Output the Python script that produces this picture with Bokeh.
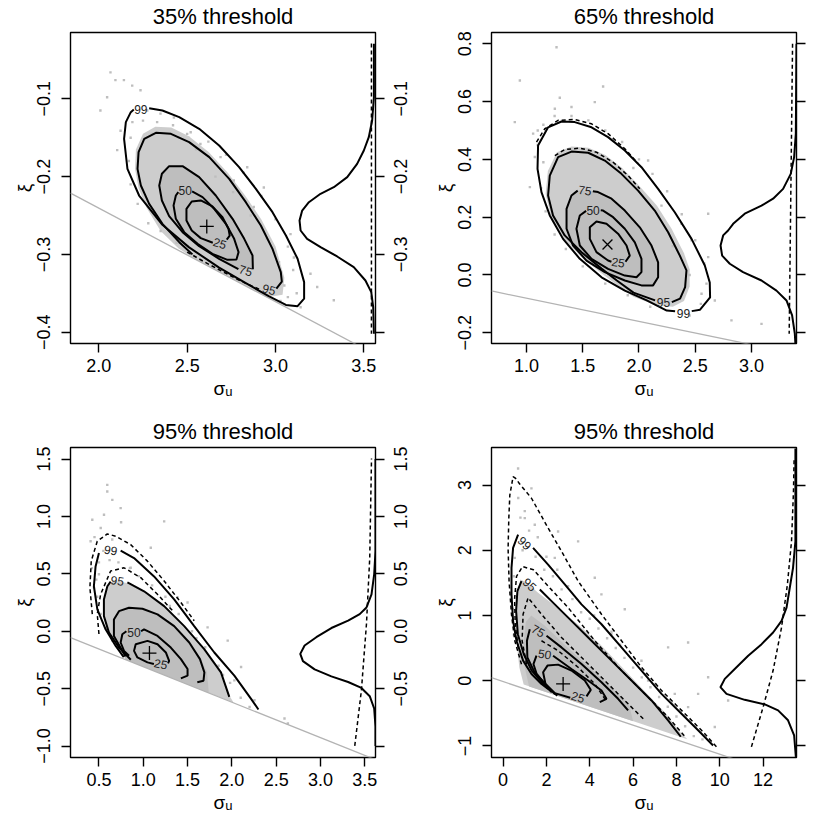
import math
from bokeh.plotting import figure
from bokeh.models import Range1d, LinearAxis, FixedTicker
from bokeh.layouts import column, row
from bokeh.embed import file_html
from bokeh.resources import INLINE
from bokeh.core.properties import value

FONT = "Liberation Sans"

# ---------------- Panel 1 : 35% threshold ----------------
P1_TITLE = "35% threshold"
P1_XTICKS = [2.0, 2.5, 3.0, 3.5]
P1_XLABELS = ["2.0", "2.5", "3.0", "3.5"]
P1_YTICKS = [-0.4, -0.3, -0.2, -0.1]
P1_YLABELS = ["\u22120.4", "\u22120.3", "\u22120.2", "\u22120.1"]
P1_XRANGE = [1.8397, 3.566]
P1_YRANGE = [-0.4146, -0.0147]
P1_BOUND_X = [1.8397, 3.566]
P1_BOUND_Y = [-0.2213, -0.4290]
P1_C99_X = [2.285, 2.360, 2.455, 2.568, 2.681, 2.794, 2.889, 2.983, 3.059, 3.125, 3.162, 3.162, 3.125, 3.059, 2.964, 2.832, 2.681, 2.511, 2.360, 2.228, 2.162, 2.143, 2.153, 2.181, 2.198]
P1_C99_Y = [-0.112, -0.115, -0.1236, -0.1386, -0.160, -0.1879, -0.2157, -0.2457, -0.2757, -0.3057, -0.3357, -0.357, -0.3666, -0.365, -0.354, -0.337, -0.317, -0.291, -0.262, -0.2243, -0.190, -0.1514, -0.130, -0.1171, -0.1137]
P1_C95_X = [3.005, 3.036, 3.030, 2.983, 2.917, 2.832, 2.738, 2.625, 2.511, 2.408, 2.323, 2.257, 2.225, 2.219, 2.238, 2.285, 2.360, 2.455, 2.530]
P1_C95_Y = [-0.344, -0.335, -0.3229, -0.2929, -0.2629, -0.2329, -0.2029, -0.175, -0.1557, -0.145, -0.1437, -0.1514, -0.1686, -0.190, -0.2114, -0.235, -0.2607, -0.2843, -0.300]
P1_C75_X = [2.872, 2.870, 2.823, 2.757, 2.662, 2.568, 2.474, 2.398, 2.357, 2.342, 2.357, 2.398, 2.474, 2.568, 2.681, 2.790]
P1_C75_Y = [-0.319, -0.3014, -0.280, -0.2543, -0.2243, -0.2007, -0.1866, -0.1866, -0.1964, -0.2114, -0.2307, -0.2509, -0.2714, -0.2894, -0.3057, -0.319]
P1_C50_X = [2.528, 2.587, 2.653, 2.719, 2.766, 2.791, 2.779, 2.728, 2.643, 2.559, 2.483, 2.436, 2.423, 2.436, 2.450]
P1_C50_Y = [-0.219, -0.2264, -0.2414, -0.2607, -0.280, -0.2971, -0.3066, -0.307, -0.2993, -0.2864, -0.2714, -0.2543, -0.2371, -0.2243, -0.220]
P1_C25_X = [2.724, 2.741, 2.734, 2.700, 2.643, 2.577, 2.526, 2.496, 2.496, 2.526, 2.577, 2.645]
P1_C25_Y = [-0.281, -0.276, -0.2671, -0.2521, -0.2384, -0.2307, -0.232, -0.2414, -0.2564, -0.2693, -0.2791, -0.285]
P1_D95_X = [2.50, 2.60, 2.70, 2.80, 2.92]
P1_D95_Y = [-0.297, -0.310, -0.322, -0.334, -0.346]
P1_CLOUD_X = [3.04, 3.05, 3.00, 2.92, 2.83, 2.73, 2.62, 2.51, 2.41, 2.32, 2.25, 2.21, 2.205, 2.225, 2.27, 2.35, 2.45, 2.55, 2.75, 2.95]
P1_CLOUD_Y = [-0.352, -0.33, -0.29, -0.255, -0.225, -0.195, -0.168, -0.148, -0.137, -0.136, -0.145, -0.165, -0.19, -0.215, -0.24, -0.27, -0.292, -0.307, -0.331, -0.355]
P1_DOTS_X = [2.066, 2.094, 2.047, 2.142, 2.189, 2.236, 2.009, 2.104, 2.425, 2.500, 2.575, 2.840, 2.934, 3.085, 3.236, 3.142, 3.028, 3.330, 3.104, 2.877, 2.274, 2.349, 2.689, 2.764, 3.198, 2.123,
             2.19, 2.25, 2.33, 2.42, 2.52, 2.62, 2.72, 2.82, 2.92, 3.00, 3.07, 3.10, 3.12, 3.07, 2.18, 2.17, 2.18, 2.22, 2.28, 2.35, 2.44, 2.66, 2.76, 2.86, 2.95, 3.02, 3.05, 2.55, 2.45, 2.30]
P1_DOTS_Y = [-0.066, -0.076, -0.098, -0.076, -0.083, -0.089, -0.115, -0.166, -0.124, -0.145, -0.158, -0.188, -0.214, -0.274, -0.342, -0.368, -0.360, -0.359, -0.304, -0.239, -0.115, -0.119, -0.175, -0.205, -0.325, -0.141,
             -0.13, -0.128, -0.13, -0.134, -0.143, -0.155, -0.172, -0.195, -0.225, -0.255, -0.29, -0.32, -0.35, -0.355, -0.15, -0.18, -0.21, -0.235, -0.26, -0.27, -0.285, -0.20, -0.22, -0.25, -0.28, -0.31, -0.34, -0.165, -0.15, -0.145]
P1_LAB_X = [2.238, 2.964, 2.832, 2.489, 2.685]
P1_LAB_Y = [-0.1137, -0.345, -0.3207, -0.2179, -0.2856]
P1_LAB_T = ["99", "95", "75", "50", "25"]
P1_LAB_A = [0.0, -0.25, -0.3, 0.0, -0.3]
P1_MODE = [2.611, -0.264]
P1_DENS_X = [3.557, 3.557, 3.547, 3.528, 3.500, 3.462, 3.406, 3.330, 3.255, 3.189, 3.151, 3.136, 3.142, 3.179, 3.255, 3.349, 3.443, 3.509, 3.542, 3.553, 3.557]
P1_DENS_Y = [-0.0293, -0.0979, -0.1279, -0.1493, -0.1664, -0.1836, -0.2007, -0.2136, -0.2221, -0.2329, -0.2436, -0.2564, -0.2693, -0.280, -0.2907, -0.3027, -0.3164, -0.3336, -0.3486, -0.3679, -0.4021]
P1_PRIOR_X = [3.543, 3.543]
P1_PRIOR_Y = [-0.029, -0.402]

# ---------------- Panel 2 : 65% threshold ----------------
P2_TITLE = "65% threshold"
P2_XTICKS = [1.0, 1.5, 2.0, 2.5, 3.0]
P2_XLABELS = ["1.0", "1.5", "2.0", "2.5", "3.0"]
P2_YTICKS = [-0.2, 0.0, 0.2, 0.4, 0.6, 0.8]
P2_YLABELS = ["\u22120.2", "0.0", "0.2", "0.4", "0.6", "0.8"]
P2_XRANGE = [0.689, 3.400]
P2_YRANGE = [-0.237, 0.839]
P2_BOUND_X = [0.689, 3.400]
P2_BOUND_Y = [-0.0553, -0.273]
P2_C99_X = [2.469, 2.543, 2.632, 2.629, 2.585, 2.467, 2.318, 2.170, 2.022, 1.874, 1.725, 1.578, 1.429, 1.311, 1.192, 1.103, 1.098, 1.133, 1.207, 1.325, 1.474, 1.667, 1.874, 2.069, 2.247, 2.321]
P2_C99_Y = [-0.125, -0.120, -0.077, -0.026, 0.033, 0.125, 0.217, 0.298, 0.373, 0.431, 0.477, 0.511, 0.529, 0.531, 0.511, 0.448, 0.367, 0.287, 0.206, 0.125, 0.056, -0.008, -0.054, -0.088, -0.123, -0.125]
P2_C95_X = [2.292, 2.365, 2.410, 2.422, 2.363, 2.259, 2.140, 1.992, 1.844, 1.696, 1.548, 1.400, 1.281, 1.207, 1.192, 1.236, 1.340, 1.489, 1.667, 1.803, 1.951, 2.143]
P2_C95_Y = [-0.094, -0.082, -0.042, 0.016, 0.067, 0.148, 0.223, 0.292, 0.350, 0.396, 0.423, 0.427, 0.408, 0.344, 0.275, 0.206, 0.137, 0.079, 0.022, -0.019, -0.061, -0.088]
P2_C75_X = [1.590, 1.636, 1.756, 1.874, 2.007, 2.111, 2.170, 2.170, 2.125, 2.022, 1.874, 1.696, 1.533, 1.414, 1.356, 1.356, 1.400, 1.455]
P2_C75_Y = [0.290, 0.287, 0.264, 0.223, 0.165, 0.102, 0.044, -0.008, -0.036, -0.036, -0.019, 0.010, 0.050, 0.102, 0.160, 0.229, 0.275, 0.292]
P2_C50_X = [1.660, 1.681, 1.770, 1.874, 1.963, 2.022, 2.022, 1.978, 1.874, 1.725, 1.578, 1.474, 1.444, 1.474, 1.530]
P2_C50_Y = [0.224, 0.223, 0.200, 0.160, 0.113, 0.056, 0.010, -0.008, -0.002, 0.021, 0.056, 0.102, 0.160, 0.206, 0.222]
P2_C25_X = [1.880, 1.918, 1.889, 1.814, 1.711, 1.622, 1.563, 1.563, 1.622, 1.725, 1.755]
P2_C25_Y = [0.046, 0.067, 0.102, 0.143, 0.177, 0.185, 0.165, 0.125, 0.079, 0.050, 0.046]
P2_D99_X = [1.089, 1.163, 1.281, 1.429, 1.578, 1.725, 1.874, 1.992]
P2_D99_Y = [0.460, 0.506, 0.535, 0.538, 0.523, 0.489, 0.437, 0.385]
P2_D95_X = [1.252, 1.340, 1.474, 1.622, 1.770, 1.903, 2.007]
P2_D95_Y = [0.413, 0.434, 0.439, 0.425, 0.390, 0.344, 0.298]
P2_CLOUD_X = [2.30, 2.40, 2.45, 2.45, 2.40, 2.29, 2.16, 2.00, 1.85, 1.70, 1.55, 1.40, 1.27, 1.19, 1.17, 1.22, 1.33, 1.48, 1.66, 1.80, 1.95, 2.15]
P2_CLOUD_Y = [-0.11, -0.09, -0.04, 0.02, 0.075, 0.16, 0.24, 0.31, 0.37, 0.415, 0.44, 0.445, 0.425, 0.36, 0.28, 0.20, 0.125, 0.065, 0.008, -0.034, -0.075, -0.105]
P2_DOTS_X = [1.267, 0.941, 1.681, 1.296, 0.896, 1.607, 1.400, 1.059, 1.252, 2.378, 2.467, 2.615, 2.822, 3.089, 2.674, 2.556, 2.081, 1.074, 1.030, 2.615,
             1.10, 1.15, 1.25, 1.40, 1.55, 1.70, 1.85, 2.00, 2.12, 2.25, 2.38, 2.50, 2.58, 2.60, 2.55, 2.45, 1.15, 1.13, 1.17, 1.25, 1.35, 1.50, 1.70, 1.90, 2.10, 2.30, 2.45, 2.20, 1.95, 1.10]
P2_DOTS_Y = [0.788, 0.673, 0.652, 0.613, 0.529, 0.598, 0.581, 0.489, 0.575, 0.177, 0.120, 0.062, -0.157, -0.169, -0.088, -0.065, 0.396, 0.408, 0.304, 0.212,
             0.50, 0.52, 0.55, 0.55, 0.535, 0.50, 0.46, 0.40, 0.35, 0.29, 0.21, 0.12, 0.04, -0.03, -0.10, -0.14, 0.39, 0.30, 0.22, 0.14, 0.09, 0.03, -0.03, -0.07, -0.11, 0.10, 0.00, 0.24, 0.37, 0.45]
P2_LAB_X = [2.396, 2.218, 1.520, 1.592, 1.816]
P2_LAB_Y = [-0.134, -0.094, 0.293, 0.223, 0.044]
P2_LAB_T = ["99", "95", "75", "50", "25"]
P2_LAB_A = [0.0, 0.0, -0.15, 0.0, -0.15]
P2_MODE = [1.72, 0.1055]
P2_DENS_X = [3.400, 3.394, 3.379, 3.349, 3.281, 3.192, 3.089, 2.940, 2.837, 2.792, 2.748, 2.725, 2.739, 2.807, 2.925, 3.089, 3.222, 3.311, 3.361, 3.385, 3.39]
P2_DENS_Y = [0.800, 0.489, 0.408, 0.350, 0.298, 0.264, 0.240, 0.212, 0.177, 0.154, 0.137, 0.102, 0.067, 0.039, 0.010, -0.019, -0.054, -0.088, -0.140, -0.203, -0.237]
P2_PRIOR_X = [3.365, 3.335]
P2_PRIOR_Y = [0.800, -0.203]

# ---------------- Panel 3 : 95% threshold ----------------
P3_TITLE = "95% threshold"
P3_XTICKS = [0.5, 1.0, 1.5, 2.0, 2.5, 3.0, 3.5]
P3_XLABELS = ["0.5", "1.0", "1.5", "2.0", "2.5", "3.0", "3.5"]
P3_YTICKS = [-1.0, -0.5, 0.0, 0.5, 1.0, 1.5]
P3_YLABELS = ["\u22121.0", "\u22120.5", "0.0", "0.5", "1.0", "1.5"]
P3_XRANGE = [0.179, 3.621]
P3_YRANGE = [-1.100, 1.601]
P3_BOUND_X = [0.179, 3.621]
P3_BOUND_Y = [-0.0553, -1.119]
P3_C99A_X = [0.78, 0.689, 0.575, 0.482, 0.443, 0.462, 0.500]
P3_C99A_Y = [-0.225, -0.128, 0.017, 0.190, 0.392, 0.565, 0.681]
P3_C99B_X = [0.745, 0.896, 1.122, 1.349, 1.575, 1.802, 2.028, 2.217, 2.300]
P3_C99B_Y = [0.703, 0.638, 0.478, 0.277, 0.045, -0.185, -0.387, -0.589, -0.682]
P3_C95A_X = [0.86, 0.726, 0.613, 0.556, 0.556, 0.595, 0.632]
P3_C95A_Y = [-0.248, -0.142, -0.012, 0.132, 0.277, 0.392, 0.433]
P3_C95B_X = [0.821, 1.009, 1.236, 1.462, 1.688, 1.877, 1.971]
P3_C95B_Y = [0.426, 0.348, 0.219, 0.045, -0.156, -0.358, -0.572]
P3_C75_X = [0.80, 0.669, 0.669, 0.726, 0.839, 0.991, 1.161, 1.349, 1.519, 1.640, 1.690, 1.680, 1.610]
P3_C75_Y = [-0.22, -0.041, 0.103, 0.175, 0.205, 0.196, 0.147, 0.045, -0.098, -0.243, -0.358, -0.431, -0.445]
P3_C50A_X = [0.840, 0.783, 0.745, 0.764, 0.810]
P3_C50A_Y = [-0.214, -0.171, -0.098, -0.026, 0.0]
P3_C50B_X = [0.975, 1.009, 1.161, 1.311, 1.425, 1.500, 1.500, 1.425]
P3_C50B_Y = [0.0, 0.017, -0.041, -0.142, -0.243, -0.329, -0.387, -0.410]
P3_C25_X = [1.28, 1.292, 1.255, 1.161, 1.048, 0.915, 0.896, 0.934, 1.048, 1.12]
P3_C25_Y = [-0.28, -0.258, -0.185, -0.113, -0.084, -0.113, -0.171, -0.228, -0.271, -0.285]
P3_D99_X = [0.425, 0.398, 0.413, 0.481, 0.594, 0.689, 0.858, 1.047, 1.236, 1.425, 1.575]
P3_D99_Y = [0.149, 0.380, 0.611, 0.784, 0.848, 0.828, 0.755, 0.611, 0.438, 0.250, 0.092]
P3_D95_X = [0.500, 0.481, 0.519, 0.632, 0.783, 0.972, 1.160, 1.349]
P3_D95_Y = [-0.024, 0.149, 0.322, 0.525, 0.553, 0.467, 0.322, 0.164]
P3_CLOUD_X = [0.84, 0.72, 0.61, 0.56, 0.56, 0.60, 0.66, 0.82, 1.00, 1.24, 1.46, 1.69, 1.88, 1.98, 2.02]
P3_CLOUD_Y = [-0.26, -0.14, -0.01, 0.13, 0.28, 0.39, 0.44, 0.42, 0.35, 0.21, 0.03, -0.17, -0.37, -0.57, -0.624]
P3_DENSE_X = [0.80, 0.68, 0.68, 0.73, 0.84, 0.99, 1.16, 1.35, 1.52, 1.65, 1.72, 1.74]
P3_DENSE_Y = [-0.247, -0.04, 0.10, 0.17, 0.20, 0.19, 0.14, 0.04, -0.10, -0.24, -0.36, -0.538]
P3_DOTS_X = [0.594, 0.651, 0.594, 0.557, 0.425, 0.745, 1.236, 0.406, 0.500, 0.443, 1.387, 1.500, 1.726, 1.953, 2.104, 2.255, 2.594, 2.632, 2.028, 0.858, 1.085,
             0.50, 0.47, 0.48, 0.52, 0.58, 0.65, 0.55, 0.62, 0.72, 0.85, 0.95, 1.10, 1.25, 1.40, 1.55, 1.70, 1.85, 1.98, 2.10, 2.20, 1.30, 1.60, 1.90, 0.45, 0.52, 0.65, 0.75, 0.42]
P3_DOTS_Y = [1.217, 1.145, 1.275, 1.015, 0.972, 1.073, 0.957, 0.784, 0.496, 0.380, 0.294, 0.250, 0.034, -0.082, -0.312, -0.601, -0.760, -0.803, -0.428, 0.553, 0.727,
             0.60, 0.45, 0.30, 0.15, 0.03, -0.08, 0.70, 0.62, 0.60, 0.55, 0.48, 0.40, 0.30, 0.15, 0.0, -0.14, -0.30, -0.45, -0.58, -0.66, 0.22, -0.06, -0.38, 0.82, 0.90, 0.80, 0.95, 0.55]
P3_LAB_X = [0.633, 0.708, 0.896, 1.198]
P3_LAB_Y = [0.707, 0.441, -0.009, -0.284]
P3_LAB_T = ["99", "95", "50", "25"]
P3_LAB_A = [-0.15, -0.15, 0.0, -0.2]
P3_MODE = [1.07, -0.19]
P3_DENS_X = [3.621, 3.621, 3.606, 3.576, 3.519, 3.443, 3.312, 3.123, 2.953, 2.821, 2.772, 2.802, 2.934, 3.123, 3.312, 3.462, 3.556, 3.606, 3.621, 3.621]
P3_DENS_Y = [1.500, 0.698, 0.496, 0.322, 0.207, 0.149, 0.092, 0.028, -0.052, -0.124, -0.197, -0.260, -0.332, -0.393, -0.442, -0.494, -0.566, -0.673, -0.832, -1.000]
P3_PRIOR_X = [3.387, 3.462, 3.519, 3.556, 3.576]
P3_PRIOR_Y = [-0.999, -0.514, 0.063, 0.640, 1.506]

# ---------------- Panel 4 : 95% threshold ----------------
P4_TITLE = "95% threshold"
P4_XTICKS = [0, 2, 4, 6, 8, 10, 12]
P4_XLABELS = ["0", "2", "4", "6", "8", "10", "12"]
P4_YTICKS = [-1, 0, 1, 2, 3]
P4_YLABELS = ["\u22121", "0", "1", "2", "3"]
P4_XRANGE = [-0.535, 13.54]
P4_YRANGE = [-1.178, 3.575]
P4_BOUND_X = [-0.535, 13.54]
P4_BOUND_Y = [0.045, -1.522]
P4_C99A_X = [0.692, 0.461, 0.388, 0.388, 0.461, 0.618, 0.923, 1.311, 1.772, 2.077]
P4_C99A_Y = [2.238, 2.035, 1.730, 1.323, 0.917, 0.612, 0.307, 0.103, -0.050, -0.126]
P4_C99B_X = [1.384, 2.077, 2.847, 3.618, 4.541, 5.464, 6.387, 7.310, 8.233, 9.000, 9.691]
P4_C99B_Y = [2.035, 1.780, 1.475, 1.170, 0.865, 0.510, 0.155, -0.202, -0.507, -0.760, -0.995]
P4_C95A_X = [0.849, 0.66, 0.60, 0.68, 0.95, 1.32, 1.85, 2.25]
P4_C95A_Y = [1.527, 1.374, 1.070, 0.713, 0.408, 0.154, -0.050, -0.180]
P4_C95B_X = [1.694, 2.386, 3.156, 4.079, 5.002, 5.925, 6.848, 7.614, 8.200]
P4_C95B_Y = [1.399, 1.170, 0.917, 0.612, 0.307, 0.002, -0.303, -0.608, -0.860]
P4_C75A_X = [1.232, 1.10, 1.12, 1.45, 1.95, 2.40]
P4_C75A_Y = [0.789, 0.612, 0.358, 0.129, -0.050, -0.210]
P4_C75B_X = [2.003, 2.695, 3.618, 4.541, 5.307, 5.768]
P4_C75B_Y = [0.688, 0.510, 0.255, -0.024, -0.278, -0.455]
P4_C50A_X = [1.541, 1.40, 1.55, 1.95, 2.50]
P4_C50A_Y = [0.383, 0.255, 0.103, -0.060, -0.230]
P4_C50B_X = [2.307, 3.156, 3.922, 4.541, 4.772, 4.462]
P4_C50B_Y = [0.383, 0.179, 0.002, -0.150, -0.278, -0.328]
P4_C25_X = [3.849, 4.047, 3.770, 3.156, 2.538, 2.049, 1.846, 1.957, 2.386, 3.10]
P4_C25_Y = [-0.241, -0.141, 0.002, 0.155, 0.246, 0.231, 0.129, -0.050, -0.191, -0.262]
P4_D99_X = [0.849, 0.540, 0.388, 0.277, 0.231, 0.263, 0.310, 0.461, 0.58, 0.757, 1.311, 2.077, 2.695, 3.461, 4.541, 5.464, 6.387, 7.310, 8.233, 9.155, 9.922]
P4_D99_Y = [0.251, 0.612, 1.013, 1.521, 2.024, 2.482, 2.843, 3.128, 3.10, 3.02, 2.797, 2.340, 1.984, 1.527, 1.018, 0.612, 0.205, -0.150, -0.455, -0.760, -1.040]
P4_D95_X = [0.70, 0.56, 0.53, 0.62, 0.90, 1.40, 2.077, 3.0, 4.232, 5.464, 6.692, 7.614, 8.45]
P4_D95_Y = [0.505, 0.86, 1.25, 1.60, 1.75, 1.70, 1.45, 1.12, 0.612, 0.155, -0.253, -0.557, -0.88]
P4_D75_X = [1.080, 0.877, 0.923, 1.154, 1.772, 2.695, 3.770, 4.846, 5.768, 6.539]
P4_D75_Y = [0.251, 0.612, 1.018, 1.272, 1.018, 0.663, 0.307, -0.050, -0.355, -0.608]
P4_D50_X = [1.772, 2.538, 3.461, 4.232, 4.693]
P4_D50_Y = [0.612, 0.460, 0.205, -0.050, -0.278]
P4_CLOUD_X = [0.95, 0.75, 0.62, 0.60, 0.65, 0.80, 1.10, 1.60, 2.50, 3.50, 4.50, 5.50, 6.50, 7.50, 8.20, 8.50]
P4_CLOUD_Y = [-0.06, 0.20, 0.60, 1.00, 1.35, 1.55, 1.50, 1.35, 1.12, 0.85, 0.55, 0.20, -0.15, -0.50, -0.80, -0.90]
P4_DENSE_X = [1.20, 1.00, 0.95, 1.05, 1.30, 1.90, 3.00, 4.50, 5.80, 6.00]
P4_DENSE_Y = [-0.089, 0.20, 0.60, 0.90, 1.00, 0.85, 0.50, 0.05, -0.35, -0.623]
P4_DOTS_X = [0.692, 1.308, 1.0, 2.538, 3.462, 4.231, 5.615, 8.538, 7.615, 6.385, 5.0, 9.462, 9.0, 10.385, 6.692, 8.538, 0.538, 1.462, 2.385, 4.538, 9.769, 7.923,
             1.5, 1.9, 2.3, 2.7, 3.2, 3.6, 4.0, 4.4, 4.8, 5.2, 5.6, 6.0, 6.4, 6.8, 7.2, 7.6, 8.0, 8.4, 8.8, 3.0, 4.2, 5.4, 6.6, 7.8, 2.0, 1.2, 0.8, 0.5, 0.7, 1.0, 0.45, 0.5, 0.9, 1.6, 2.5, 5.0, 7.0, 9.2]
P4_DOTS_Y = [3.254, 2.949, 2.492, 2.288, 2.136, 1.577, 1.094, 0.586, 0.510, 0.306, 0.713, 0.052, -0.202, -0.304, 0.001, -0.405, 1.882, 2.390, 1.882, 1.323, -0.710, -0.202,
             1.9, 1.7, 1.6, 1.4, 1.25, 1.05, 0.95, 0.8, 0.65, 0.5, 0.35, 0.2, 0.05, -0.1, -0.25, -0.4, -0.55, -0.7, -0.85, 1.45, 1.0, 0.55, 0.1, -0.35, 1.9, 2.3, 2.5, 1.6, 2.8, 2.6, 1.1, 0.7, 2.0, 2.2, 1.7, 0.75, -0.05, -0.9]
P4_LAB_X = [1.0, 1.23, 1.62, 1.92, 3.46]
P4_LAB_Y = [2.11, 1.475, 0.765, 0.41, -0.25]
P4_LAB_T = ["99", "95", "75", "50", "25"]
P4_LAB_A = [-0.8, -0.75, -0.5, -0.15, -0.3]
P4_MODE = [2.77, -0.05]
P4_DENS_X = [13.49, 13.49, 13.38, 13.23, 13.08, 12.85, 12.46, 11.93, 11.31, 10.69, 10.23, 10.03, 10.31, 11.15, 12.08, 12.69, 13.15, 13.43, 13.51]
P4_DENS_Y = [3.56, 2.137, 1.730, 1.425, 1.120, 0.917, 0.739, 0.560, 0.383, 0.179, 0.027, -0.100, -0.202, -0.294, -0.364, -0.455, -0.608, -0.837, -1.168]
P4_PRIOR_X = [11.46, 12.0, 12.46, 12.85, 13.12, 13.31, 13.40, 13.43]
P4_PRIOR_Y = [-1.015, -0.405, 0.155, 0.815, 1.475, 2.137, 2.900, 3.407]

# ---------------- styling ----------------
DOT = "#bebebe"
CLOUD_LIGHT = "#cdcdcd"
CLOUD_DENSE = "#bebebe"
BOUND = "#b3b3b3"
TICK_PX = 18
TICK_FS = "%dpx" % TICK_PX
# Arial/Liberation Sans advance widths (per 1000 em) for tick-label centring
GLYPH_W = {"\u2212": 584, "0": 556, "1": 556, "2": 556, "3": 556, "4": 556, "5": 556,
           "6": 556, "7": 556, "8": 556, "9": 556, ".": 278}


def text_px(s):
    return sum(GLYPH_W.get(c, 556) for c in s) * TICK_PX / 1000.0


def base_axis(ax):
    ax.minor_tick_line_color = None
    ax.axis_line_color = None
    ax.major_tick_in = 0
    ax.major_tick_out = 9
    ax.major_tick_line_width = 1.4
    ax.major_tick_line_color = "black"
    ax.major_label_text_font = FONT
    ax.major_label_text_font_size = TICK_FS
    ax.major_label_text_color = "black"
    ax.axis_label_text_font = FONT
    ax.axis_label_text_font_size = "19px"
    ax.axis_label_text_font_style = "normal"
    ax.axis_label_text_color = "black"


def make_panel(title, xr, yr, xt, xl, yt, yl, borders, fh, right_labels):
    bl, br, bt, bb = borders
    p = figure(frame_width=305, frame_height=fh,
               min_border_left=bl, min_border_right=br, min_border_top=bt, min_border_bottom=bb,
               x_range=Range1d(*xr), y_range=Range1d(*yr),
               output_backend="svg", toolbar_location=None,
               x_axis_label="\u03c3\u1d64", y_axis_label="\u03be")
    p.grid.visible = False
    p.outline_line_color = "black"
    p.outline_line_width = 1.4
    p.background_fill_color = "white"
    p.border_fill_color = "white"
    p.title.text = title
    p.title.align = "center"
    p.title.vertical_align = "top"
    p.title.text_font = FONT
    p.title.text_font_size = "22px"
    p.title.text_font_style = "normal"
    p.title.text_color = "black"
    p.title.standoff = 4

    xa = p.xaxis[0]
    base_axis(xa)
    xa.ticker = FixedTicker(ticks=xt)
    xa.major_label_overrides = dict(zip(xt, xl))
    xa.major_label_standoff = 6
    xa.axis_label_standoff = 3

    ya = p.yaxis[0]
    base_axis(ya)
    ya.ticker = FixedTicker(ticks=yt)
    ya.major_label_overrides = dict(zip(yt, yl))
    ya.major_label_orientation = "parallel"
    ya.major_label_standoff = 11
    ya.axis_label_standoff = 0

    # right axis: ticks drawn as minor ticks at the true positions, labels (reading
    # bottom-to-top) anchored half a label-length below each tick so they centre on it
    ppu = fh / (yr[1] - yr[0])
    shifted = [t - text_px(l) / 2.0 / ppu for t, l in zip(yt, yl)]
    ra = LinearAxis()
    base_axis(ra)
    ra.ticker = FixedTicker(ticks=shifted, minor_ticks=yt)
    ra.major_tick_line_color = None
    ra.minor_tick_line_color = "black"
    ra.minor_tick_line_width = 1.4
    ra.minor_tick_in = 0
    ra.minor_tick_out = 9
    if right_labels:
        ra.major_label_overrides = dict(zip(shifted, yl))
        ra.major_label_orientation = math.pi / 2
        ra.major_label_standoff = 16
    else:
        ra.major_label_overrides = {s: "" for s in shifted}
        ra.major_label_text_font_size = "1px"
        ra.major_label_standoff = 0
    p.add_layout(ra, "right")
    return p


def draw(p, cloud, dense, dots, bound, solids, dashes, labs, mode, mode_marker, dens, prior):
    p.patch(cloud[0], cloud[1], fill_color=CLOUD_LIGHT, line_color=None)
    p.patch(dense[0], dense[1], fill_color=CLOUD_DENSE, line_color=None)
    p.scatter(dots[0], dots[1], marker="square", size=2.4, fill_color=DOT, line_color=None)
    p.line(bound[0], bound[1], line_color=BOUND, line_width=1.3)
    for xs, ys in dashes:
        p.line(xs, ys, line_color="black", line_width=1.5, line_dash="4 3")
    for xs, ys in solids:
        p.line(xs, ys, line_color="black", line_width=2)
    p.text(x=labs[0], y=labs[1], text=labs[2], angle=labs[3],
           text_font=value(FONT), text_font_size="12px", text_color="#222222",
           text_align="center", text_baseline="middle")
    p.scatter([mode[0]], [mode[1]], marker=mode_marker, size=14, line_color="black", line_width=1.3)
    p.line(prior[0], prior[1], line_color="black", line_width=1.5, line_dash="4 3")
    p.line(dens[0], dens[1], line_color="black", line_width=2)


p1 = make_panel(P1_TITLE, P1_XRANGE, P1_YRANGE, P1_XTICKS, P1_XLABELS, P1_YTICKS, P1_YLABELS,
                (70, 35, 32, 59), 311, True)
draw(p1, (P1_CLOUD_X, P1_CLOUD_Y), (P1_C75_X, P1_C75_Y), (P1_DOTS_X, P1_DOTS_Y), (P1_BOUND_X, P1_BOUND_Y),
     [(P1_C99_X, P1_C99_Y), (P1_C95_X, P1_C95_Y), (P1_C75_X, P1_C75_Y), (P1_C50_X, P1_C50_Y), (P1_C25_X, P1_C25_Y)],
     [(P1_D95_X, P1_D95_Y)],
     (P1_LAB_X, P1_LAB_Y, P1_LAB_T, P1_LAB_A), P1_MODE, "cross",
     (P1_DENS_X, P1_DENS_Y), (P1_PRIOR_X, P1_PRIOR_Y))

p2 = make_panel(P2_TITLE, P2_XRANGE, P2_YRANGE, P2_XTICKS, P2_XLABELS, P2_YTICKS, P2_YLABELS,
                (75, 27, 32, 59), 311, False)
draw(p2, (P2_CLOUD_X, P2_CLOUD_Y), (P2_C75_X, P2_C75_Y), (P2_DOTS_X, P2_DOTS_Y), (P2_BOUND_X, P2_BOUND_Y),
     [(P2_C99_X, P2_C99_Y), (P2_C95_X, P2_C95_Y), (P2_C75_X, P2_C75_Y), (P2_C50_X, P2_C50_Y), (P2_C25_X, P2_C25_Y)],
     [(P2_D99_X, P2_D99_Y), (P2_D95_X, P2_D95_Y)],
     (P2_LAB_X, P2_LAB_Y, P2_LAB_T, P2_LAB_A), P2_MODE, "x",
     (P2_DENS_X, P2_DENS_Y), (P2_PRIOR_X, P2_PRIOR_Y))

p3 = make_panel(P3_TITLE, P3_XRANGE, P3_YRANGE, P3_XTICKS, P3_XLABELS, P3_YTICKS, P3_YLABELS,
                (70, 35, 45, 57), 310, True)
draw(p3, (P3_CLOUD_X, P3_CLOUD_Y), (P3_DENSE_X, P3_DENSE_Y), (P3_DOTS_X, P3_DOTS_Y), (P3_BOUND_X, P3_BOUND_Y),
     [(P3_C99A_X, P3_C99A_Y), (P3_C99B_X, P3_C99B_Y), (P3_C95A_X, P3_C95A_Y), (P3_C95B_X, P3_C95B_Y),
      (P3_C75_X, P3_C75_Y), (P3_C50A_X, P3_C50A_Y), (P3_C50B_X, P3_C50B_Y), (P3_C25_X, P3_C25_Y)],
     [(P3_D99_X, P3_D99_Y), (P3_D95_X, P3_D95_Y)],
     (P3_LAB_X, P3_LAB_Y, P3_LAB_T, P3_LAB_A), P3_MODE, "cross",
     (P3_DENS_X, P3_DENS_Y), (P3_PRIOR_X, P3_PRIOR_Y))

p4 = make_panel(P4_TITLE, P4_XRANGE, P4_YRANGE, P4_XTICKS, P4_XLABELS, P4_YTICKS, P4_YLABELS,
                (75, 27, 45, 57), 310, False)
draw(p4, (P4_CLOUD_X, P4_CLOUD_Y), (P4_DENSE_X, P4_DENSE_Y), (P4_DOTS_X, P4_DOTS_Y), (P4_BOUND_X, P4_BOUND_Y),
     [(P4_C99A_X, P4_C99A_Y), (P4_C99B_X, P4_C99B_Y), (P4_C95A_X, P4_C95A_Y), (P4_C95B_X, P4_C95B_Y),
      (P4_C75A_X, P4_C75A_Y), (P4_C75B_X, P4_C75B_Y), (P4_C50A_X, P4_C50A_Y), (P4_C50B_X, P4_C50B_Y),
      (P4_C25_X, P4_C25_Y)],
     [(P4_D99_X, P4_D99_Y), (P4_D95_X, P4_D95_Y), (P4_D75_X, P4_D75_Y), (P4_D50_X, P4_D50_Y)],
     (P4_LAB_X, P4_LAB_Y, P4_LAB_T, P4_LAB_A), P4_MODE, "cross",
     (P4_DENS_X, P4_DENS_Y), (P4_PRIOR_X, P4_PRIOR_Y))

layout = column(row(p1, p2), row(p3, p4))
open("out.html", "w").write(file_html(layout, INLINE))
